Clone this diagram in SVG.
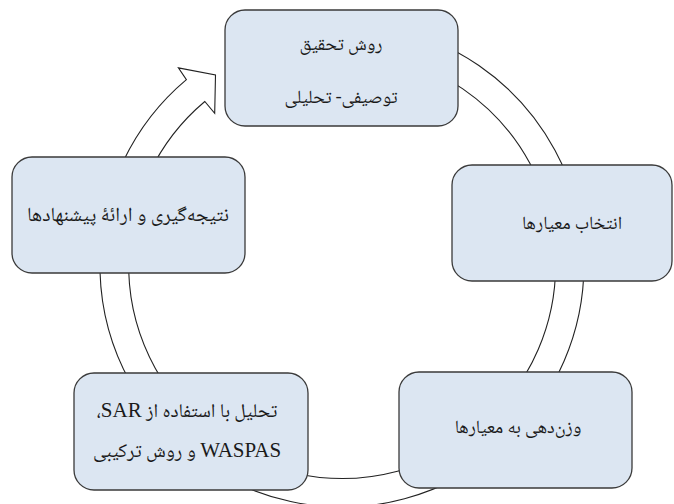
<svg xmlns="http://www.w3.org/2000/svg" width="674" height="504" viewBox="0 0 674 504">
<style>
.box{fill:#dce6f2;stroke:#3a3a3a;stroke-width:1.3}
.band{fill:#ffffff;stroke:#222;stroke-width:1.1;stroke-linejoin:miter}
.t{font-family:"Noto Naskh Arabic","Liberation Serif","DejaVu Sans",serif;font-size:18.5px;fill:#1a1a1a;text-anchor:middle;direction:rtl}
.lat{font-family:"Liberation Serif",serif;font-size:21px}
</style>
<rect width="674" height="504" fill="#ffffff"/>
<g id="connectors">
<path class="band" d="M 384.0 26.7 A 242 242 0 1 1 186.4 79.6 L 178.4 67.9 L 215.5 75.0 L 214.7 113.3 L 204.8 101.5 A 213.5 213.5 0 1 0 379.1 54.7 Z"/>
</g>
<g id="node-top">
<rect class="box" x="225" y="10" width="233" height="116" rx="20"/>
<text class="t" x="341" y="50">روش تحقیق</text>
<text class="t" x="341" y="103">توصیفی- تحلیلی</text>
</g>
<g id="node-right">
<rect class="box" x="452" y="165" width="220" height="116" rx="20"/>
<text class="t" x="572" y="229">انتخاب معیارها</text>
</g>
<g id="node-bottom-right">
<rect class="box" x="399" y="372" width="233" height="116" rx="20"/>
<text class="t" x="518" y="433">وزن‌دهی به معیارها</text>
</g>
<g id="node-bottom-left">
<rect class="box" x="74" y="373" width="234" height="117" rx="20"/>
<text class="t" x="187" y="417" style="font-size:19.5px">تحلیل با استفاده از <tspan class="lat">SAR</tspan>،</text>
<text class="t" x="187" y="457" style="font-size:19.5px"><tspan class="lat">WASPAS</tspan> و روش ترکیبی</text>
</g>
<g id="node-left">
<rect class="box" x="12" y="157" width="233" height="116" rx="20"/>
<text class="t" x="128" y="221" style="font-size:20px">نتیجه‌گیری و ارائهٔ پیشنهادها</text>
</g>
</svg>
